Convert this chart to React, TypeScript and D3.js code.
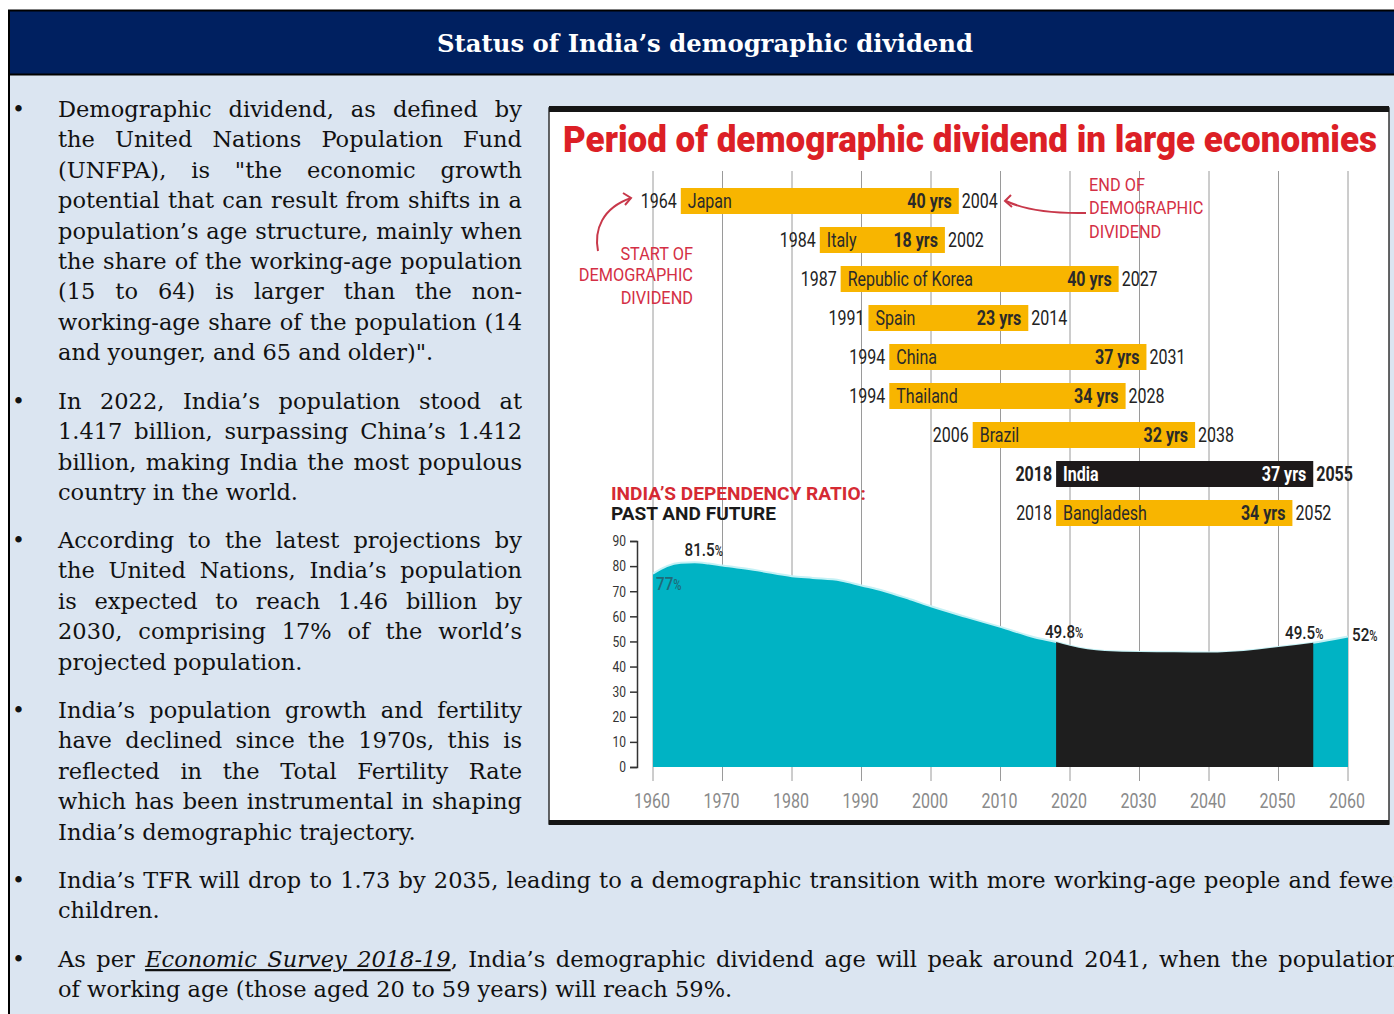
import React, { useEffect, useRef } from 'react';
import * as d3 from 'd3';

const W = 1394;
const H = 1014;
const CHART_FONT = "Roboto, 'Liberation Sans', sans-serif";
const BODY_FONT = "'DejaVu Serif', 'Liberation Serif', serif";

// period of demographic dividend
const countries = ['Japan', 'Italy', 'Republic of Korea', 'Spain', 'China', 'Thailand', 'Brazil', 'India', 'Bangladesh'];
const startYears = [1964, 1984, 1987, 1991, 1994, 1994, 2006, 2018, 2018];
const endYears = [2004, 2002, 2027, 2014, 2031, 2028, 2038, 2055, 2052];

// India's dependency ratio, %
const ratioYears = [1960, 1962, 1964, 1966, 1968, 1970, 1975, 1980, 1983, 1987, 1990, 1993, 1997, 2000, 2005, 2010, 2015, 2018, 2020, 2025, 2030, 2035, 2040, 2045, 2050, 2055, 2060];
const ratioValues = [77, 80, 81.3, 81.5, 81, 80.2, 78.3, 76, 75.3, 74.3, 72.3, 70.3, 66.8, 64, 59.8, 55.8, 51.6, 49.8, 48.3, 46.2, 45.8, 45.7, 45.6, 46.2, 47.8, 49.5, 52];

const yearTicks = [1960, 1970, 1980, 1990, 2000, 2010, 2020, 2030, 2040, 2050, 2060];
const ratioTicks = [0, 10, 20, 30, 40, 50, 60, 70, 80, 90];

// text blocks: [lines, first baseline]
const paragraphs: [string[], number][] = [
  [[
    'Demographic dividend, as defined by',
    'the United Nations Population Fund',
    '(UNFPA), is "the economic growth',
    'potential that can result from shifts in a',
    'population’s age structure, mainly when',
    'the share of the working-age population',
    '(15 to 64) is larger than the non-',
    'working-age share of the population (14',
    'and younger, and 65 and older)".',
  ], 117],
  [[
    'In 2022, India’s population stood at',
    '1.417 billion, surpassing China’s 1.412',
    'billion, making India the most populous',
    'country in the world.',
  ], 409],
  [[
    'According to the latest projections by',
    'the United Nations, India’s population',
    'is expected to reach 1.46 billion by',
    '2030, comprising 17% of the world’s',
    'projected population.',
  ], 548],
  [[
    'India’s population growth and fertility',
    'have declined since the 1970s, this is',
    'reflected in the Total Fertility Rate',
    'which has been instrumental in shaping',
    'India’s demographic trajectory.',
  ], 718],
];
const LINE_H = 30.4;
const BODY_SIZE = 22.5;

function CText({ x, y, children, size = 20, weight = 400, fill = '#222', anchor = 'start', sx = 0.8 }: any) {
  return (
    <text transform={`translate(${x},${y}) scale(${sx},1)`} fontSize={size} fontWeight={weight}
      fill={fill} textAnchor={anchor} fontFamily={CHART_FONT}>{children}</text>
  );
}

export default function App() {
  const svgRef = useRef<SVGSVGElement>(null);
  const axisRef = useRef<SVGGElement>(null);

  const x = d3.scaleLinear().domain([1960, 2060]).range([653, 1348]);
  const y = d3.scaleLinear().domain([0, 90]).range([767, 541]);
  const row = d3.scalePoint().domain(countries).range([201, 513]);
  const barH = 26;

  const ratio = ratioYears.map((yr, i) => ({ yr, v: ratioValues[i] }));
  const iIndia = countries.indexOf('India');
  const divStart = startYears[iIndia];
  const divEnd = endYears[iIndia];
  const area = d3.area<any>().x(d => x(d.yr)).y0(y(0)).y1(d => y(d.v)).curve(d3.curveMonotoneX);
  const topLine = d3.line<any>().x(d => x(d.yr)).y(d => y(d.v)).curve(d3.curveMonotoneX);
  const dividendPts = ratio.filter(d => d.yr >= divStart && d.yr <= divEnd);

  const valueAt = (yr: number) => ratioValues[ratioYears.indexOf(yr)];

  useEffect(() => {
    const g = d3.select(axisRef.current);
    g.call(d3.axisLeft(y).tickValues(ratioTicks).tickSize(7).tickSizeOuter(7).tickPadding(4) as any);
    g.select('.domain').attr('stroke', '#333').attr('stroke-width', 1.5);
    g.selectAll('.tick line').attr('stroke', '#333').attr('stroke-width', 1.5);
    g.selectAll('.tick text')
      .attr('x', -11 / 0.8)
      .attr('transform', 'scale(0.8,1)')
      .attr('fill', '#333')
      .attr('font-size', 15)
      .attr('font-family', CHART_FONT);

    // justify lines by word spacing
    d3.select(svgRef.current).selectAll<SVGTextElement, unknown>('text.just').each(function () {
      const el = this;
      el.style.wordSpacing = '0px';
      const target = +(el.getAttribute('data-w') || 0);
      const natural = el.getComputedTextLength();
      const spaces = (el.textContent || '').split(' ').length - 1;
      if (spaces > 0) el.style.wordSpacing = `${(target - natural) / spaces}px`;
    });
  }, []);

  return (
    <svg ref={svgRef} width={W} height={H} style={{ position: 'absolute', left: 0, top: 0 }}>
      <rect x={0} y={0} width={W} height={H} fill="#fff" />
      <rect x={9} y={75} width={W} height={H} fill="#dbe5f1" />
      {/* header */}
      <rect x={9} y={11} width={W} height={63} fill="#002060" />
      <line x1={8} x2={W} y1={10.5} y2={10.5} stroke="#000" strokeWidth={2} />
      <line x1={8} x2={W} y1={74.5} y2={74.5} stroke="#000" strokeWidth={2} />
      <line x1={9} x2={9} y1={10} y2={H} stroke="#000" strokeWidth={2} />
      <text x={705} y={52} textAnchor="middle" fill="#fff" fontFamily={BODY_FONT} fontWeight={700}
        fontSize={24} textLength={536} lengthAdjust="spacingAndGlyphs">Status of India’s demographic dividend</text>

      {/* left paragraphs */}
      {paragraphs.map(([lines, y0], pi) => (
        <g key={pi} fontFamily={BODY_FONT} fontSize={BODY_SIZE} fill="#111">
          <text x={12} y={y0} fontSize={22}>•</text>
          {lines.map((ln, li) => (
            <text key={li} className={li < lines.length - 1 ? 'just' : ''} data-w={464}
              x={58} y={y0 + li * LINE_H} style={{ whiteSpace: 'pre' }}>{ln}</text>
          ))}
        </g>
      ))}

      {/* bottom paragraphs */}
      <g fontFamily={BODY_FONT} fontSize={BODY_SIZE} fill="#111">
        <text x={12} y={888} fontSize={22}>•</text>
        <text className="just" data-w={1346} x={58} y={888}>India’s TFR will drop to 1.73 by 2035, leading to a demographic transition with more working-age people and fewer</text>
        <text x={58} y={888 + LINE_H}>children.</text>
        <text x={12} y={967} fontSize={22}>•</text>
        <text className="just" data-w={1342} x={58} y={967}>As per <tspan fontStyle="italic" style={{ textDecoration: 'underline' }}>Economic Survey 2018-19</tspan>, India’s demographic dividend age will peak around 2041, when the population</text>
        <text x={58} y={967 + LINE_H}>of working age (those aged 20 to 59 years) will reach 59%.</text>
      </g>

      {/* chart frame */}
      <rect x={549} y={108} width={840} height={716} fill="#fff" stroke="#333" strokeWidth={1.5} />
      <rect x={549} y={106} width={840} height={6} fill="#151515" />
      <rect x={549} y={820} width={840} height={5} fill="#151515" />

      <text x={563} y={152} fill="#dc1f26" fontFamily={CHART_FONT} fontWeight={900} fontSize={37}
        textLength={814} lengthAdjust="spacingAndGlyphs">Period of demographic dividend in large economies</text>

      {/* gridlines */}
      {yearTicks.map(t => (
        <line key={t} x1={x(t)} x2={x(t)} y1={171} y2={781} stroke="#9a9a9a" strokeWidth={1} />
      ))}

      {/* dependency ratio area */}
      <path d={area(ratio) || ''} fill="#00b3c4" />
      <path d={topLine(ratio) || ''} fill="none" stroke="#c4f1f5" strokeWidth={2} />
      <path d={area(dividendPts) || ''} fill="#1e1e1e" />
      <g ref={axisRef} transform="translate(637,0)" />

      {/* area labels */}
      <CText x={x(1966) + 9} y={y(81.5) - 6} size={19} weight={500} anchor="middle" fill="#222">81.5<tspan fontSize={14}>%</tspan></CText>
      <CText x={x(1960) + 3} y={y(valueAt(1960)) + 16} size={19} weight={500} fill="#1f6a78">77<tspan fontSize={14}>%</tspan></CText>
      <CText x={x(divStart) + 8} y={y(valueAt(divStart)) - 4} size={19} weight={500} anchor="middle" fill="#222">49.8<tspan fontSize={14}>%</tspan></CText>
      <CText x={x(divEnd) - 9} y={y(valueAt(divEnd)) - 4} size={19} weight={500} anchor="middle" fill="#222">49.5<tspan fontSize={14}>%</tspan></CText>
      <CText x={x(2060) + 4} y={y(valueAt(2060)) + 5} size={19} weight={500} fill="#222">52<tspan fontSize={14}>%</tspan></CText>

      {/* x labels */}
      {yearTicks.map(t => (
        <CText key={t} x={x(t) - 1} y={808} anchor="middle" fill="#8a8a8a" size={20}>{t}</CText>
      ))}

      {/* bars */}
      {countries.map((c, i) => {
        const cy = row(c) as number;
        const x0 = x(startYears[i]);
        const x1 = x(endYears[i]);
        const india = c === 'India';
        const inFill = india ? '#fff' : '#2a2a2a';
        return (
          <g key={c}>
            <rect x={x0} y={cy - barH / 2} width={x1 - x0} height={barH} fill={india ? '#1d191a' : '#f8b500'} />
            <CText x={x0 - 4} y={cy + 7} anchor="end" weight={india ? 700 : 400}>{startYears[i]}</CText>
            <CText x={x1 + 3} y={cy + 7} weight={india ? 700 : 400}>{endYears[i]}</CText>
            <CText x={x0 + 7} y={cy + 7} fill={inFill} weight={india ? 700 : 400}>{c}</CText>
            <CText x={x1 - 7} y={cy + 7} anchor="end" fill={inFill} weight={700}>{`${endYears[i] - startYears[i]} yrs`}</CText>
          </g>
        );
      })}

      {/* annotations */}
      <g>
        <CText x={693} y={260} anchor="end" size={19} sx={0.86} fill="#d42f45">START OF</CText>
        <CText x={693} y={281} anchor="end" size={19} sx={0.86} fill="#d42f45">DEMOGRAPHIC</CText>
        <CText x={693} y={304} anchor="end" size={19} sx={0.86} fill="#d42f45">DIVIDEND</CText>
        <CText x={1089} y={191} size={19} sx={0.86} fill="#d42f45">END OF</CText>
        <CText x={1089} y={214} size={19} sx={0.86} fill="#d42f45">DEMOGRAPHIC</CText>
        <CText x={1089} y={238} size={19} sx={0.86} fill="#d42f45">DIVIDEND</CText>
      </g>
      <g fill="none" stroke="#c8384a" strokeWidth={2}>
        <path d="M598,251 C594,230 602,208 631,198" />
        <path d="M623,193 L631,198 L625,205" />
        <path d="M1086,213 L1078,213 C1050,213 1025,210 1006,201" />
        <path d="M1011,195 L1005,201 L1012,207" />
      </g>

      <text x={611} y={500} fill="#d52a33" fontFamily={CHART_FONT} fontWeight={700} fontSize={18}
        textLength={255} lengthAdjust="spacingAndGlyphs">INDIA’S DEPENDENCY RATIO:</text>
      <text x={611} y={520} fill="#1a1a1a" fontFamily={CHART_FONT} fontWeight={700} fontSize={18}
        textLength={165} lengthAdjust="spacingAndGlyphs">PAST AND FUTURE</text>
    </svg>
  );
}
